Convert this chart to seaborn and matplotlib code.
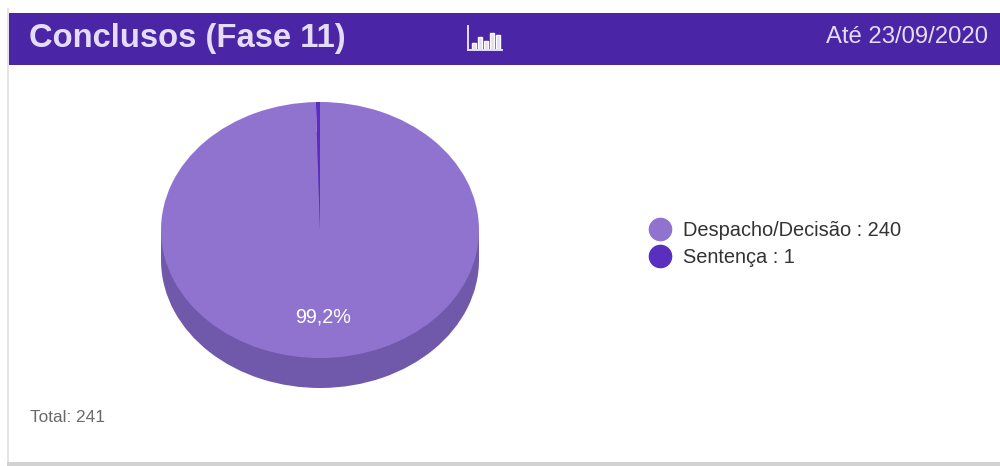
import matplotlib
matplotlib.use("Agg")
import matplotlib.pyplot as plt
from matplotlib.lines import Line2D
from matplotlib.patches import Rectangle
import seaborn as sns

# Case counts by type of conclusion
categories = ["Despacho/Decisão", "Sentença"]
counts = [240, 1]
share_label = "99,2%"
total_label = "Total: 241"
title = "Conclusos (Fase 11)"
date_label = "Até 23/09/2020"
icon_bars = [3, 6, 4, 8, 7]

palette = sns.color_palette(["#9073cf", "#5a2fc0"])
side_color = "#7059ab"
header_color = "#4a25a5"
header_text = "#e6dcfa"

sns.set_theme(style="white")
plt.rcParams["font.family"] = ["Liberation Sans", "DejaVu Sans"]

W, H = 1000, 466
fig = plt.figure(figsize=(W / 100, H / 100), dpi=100, facecolor="white")


def px_axes(x0, y0, x1, y1):
    """Axes placed by pixel box, with y measured from the top of the figure."""
    return fig.add_axes([x0 / W, 1 - y1 / H, (x1 - x0) / W, (y1 - y0) / H])


# Card background, header band and soft borders, in pixel units
bg = px_axes(0, 0, W, H)
bg.set_xlim(0, W)
bg.set_ylim(H, 0)
bg.axis("off")
bg.add_patch(Rectangle((7, 8), 2, 454, color="#e4e4e4", lw=0))
bg.add_patch(Rectangle((7, 462), 993, 4, color="#d2d2d2", lw=0))
bg.add_patch(Rectangle((9, 13), 991, 51.5, color=header_color, lw=0))
bg.text(29, 38.5, title, color=header_text, fontsize=23.6, fontweight="bold",
        va="center", ha="left")
bg.text(988, 37, date_label, color=header_text, fontsize=17.2,
        va="center", ha="right")
bg.text(30, 418, total_label, color="#6a6a6a", fontsize=12.4,
        va="center", ha="left")

# Tilted pie: a darker side wall below the elliptical top face
depth = 30 / 128
ax = px_axes(161, 102, 479, 388)
ax.add_patch(Rectangle((-1, -depth), 2, depth, color=side_color, lw=0))
ax.pie(counts, colors=[side_color, side_color], startangle=90, counterclock=False,
       center=(0, -depth), radius=1, wedgeprops={"linewidth": 0})
ax.pie(counts, colors=palette, startangle=90, counterclock=False,
       center=(0, 0), radius=1, wedgeprops={"linewidth": 0})
ax.set_xlim(-1, 1)
ax.set_ylim(-1 - depth, 1)
ax.set_aspect("auto")
ax.text(0.02, -0.68, share_label, color="white", fontsize=14.2,
        ha="center", va="center")

# Small bar-chart glyph in the header
icon = px_axes(468, 26, 502, 50)
icon.patch.set_alpha(0)
icon.bar(range(len(icon_bars)), icon_bars, width=0.62, color=header_text)
icon.set_xlim(-1, len(icon_bars) - 0.4)
icon.set_ylim(0, 11)
icon.set_xticks([])
icon.set_yticks([])
sns.despine(ax=icon, top=True, right=True)
for side in ("left", "bottom"):
    icon.spines[side].set_color(header_text)
    icon.spines[side].set_linewidth(1.4)

# Legend entries carry the counts next to the category names
handles = [
    Line2D([], [], linestyle="none", marker="o", markersize=16, color=c,
           label=f"{name} : {n}")
    for name, n, c in zip(categories, counts, palette)
]
fig.legend(handles=handles, loc="center left", bbox_to_anchor=(640 / W, 1 - 244 / H),
           frameon=False, fontsize=14.4, labelcolor="#333333", handletextpad=0.15,
           labelspacing=0.42, borderpad=0, borderaxespad=0)

fig.savefig("out.png", dpi=100)
